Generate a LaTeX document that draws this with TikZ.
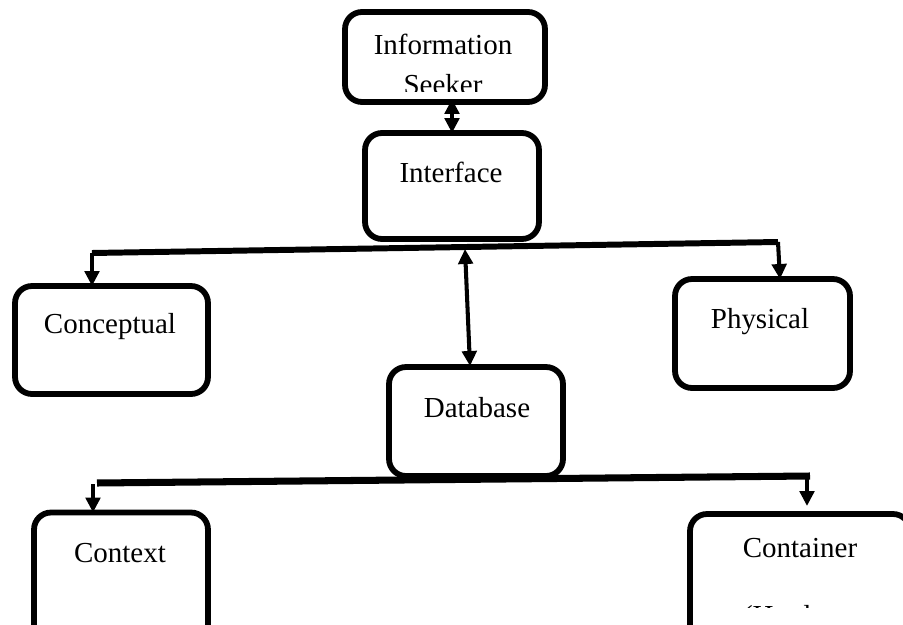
\documentclass[tikz,border=0pt]{standalone}
\usepackage{fontspec}
\setmainfont{Liberation Serif}
\usetikzlibrary{arrows.meta}
\begin{document}
\begin{tikzpicture}[x=0.02cm,y=-0.02cm,
  box/.style={draw=black,line width=3.3pt,rounded corners=0.34cm,
    inner sep=0pt,outer sep=0pt},
  lbl/.style={anchor=base,inner sep=0pt,font=\fontsize{16.5}{19.8}\selectfont},
  bus/.style={line width=3.4pt},
  busb/.style={line width=4pt},
  arr/.style={line width=2.3pt,-{Triangle[width=0.29cm,length=0.3cm]}},
  darr/.style={line width=2.3pt,{Triangle[width=0.29cm,length=0.3cm]}-{Triangle[width=0.29cm,length=0.3cm]}}]
\useasboundingbox (0,0) rectangle (903,625);

% boxes
\node[box,minimum width=4.0cm,minimum height=1.8cm] (seeker) at (445,57) {};
\node[box,minimum width=3.48cm,minimum height=2.12cm] (interface) at (452,186) {};
\node[box,minimum width=3.86cm,minimum height=2.16cm] (conceptual) at (111.5,340) {};
\node[box,minimum width=3.5cm,minimum height=2.18cm] (physical) at (762.5,333.5) {};
\node[box,minimum width=3.48cm,minimum height=2.18cm] (database) at (476,421.5) {};
\node[box,minimum width=3.48cm,minimum height=3.34cm] (context) at (121,596) {};
\node[box,minimum width=4.4cm,minimum height=3.32cm] (container) at (800,597) {};

% labels
\node[lbl] (seekerA) at (443,55) {Information};
\begin{scope}
  \clip (350,20) rectangle (540,92);
  \node[lbl] (seekerB) at (443,95) {Seeker};
\end{scope}
\node[lbl] (interfaceT) at (451,182) {Interface};
\node[lbl] (conceptualT) at (110,333) {Conceptual};
\node[lbl] (physicalT) at (760,328) {Physical};
\node[lbl] (databaseT) at (477,417) {Database};
\node[lbl] (contextT) at (120,562) {Context};
\node[lbl] (containerA) at (800,557) {Container};
\begin{scope}
  \clip (700,560) rectangle (850,607);
  \node[lbl] (containerB) at (805,625) {(Hardware};
\end{scope}

% seeker <-> interface
\draw[darr] ([yshift=0.06cm]interface.north |- seeker.south) -- (interface.north);

% upper distribution line
\coordinate (hl) at (92,253);
\coordinate (hr) at (778,242);
\coordinate (hm) at (465,249);
\coordinate (dbtop) at (470,366);
\draw[bus] (hl) -- (hr);
\draw[arr] (hl) -- (hl |- conceptual.north);
\draw[arr] (hr) -- ([xshift=0.04cm]hr |- physical.north);
\draw[darr] (hm) -- (dbtop);

% lower distribution line
\coordinate (bl) at (97,483);
\coordinate (br) at (810,476);
\coordinate (cl) at (93,484);
\coordinate (cr) at (807,477);
\draw[busb] (bl) -- (br);
\draw[arr] (cl) -- (cl |- context.north);
\draw[arr] (cr) -- (807,506);
\end{tikzpicture}
\end{document}
